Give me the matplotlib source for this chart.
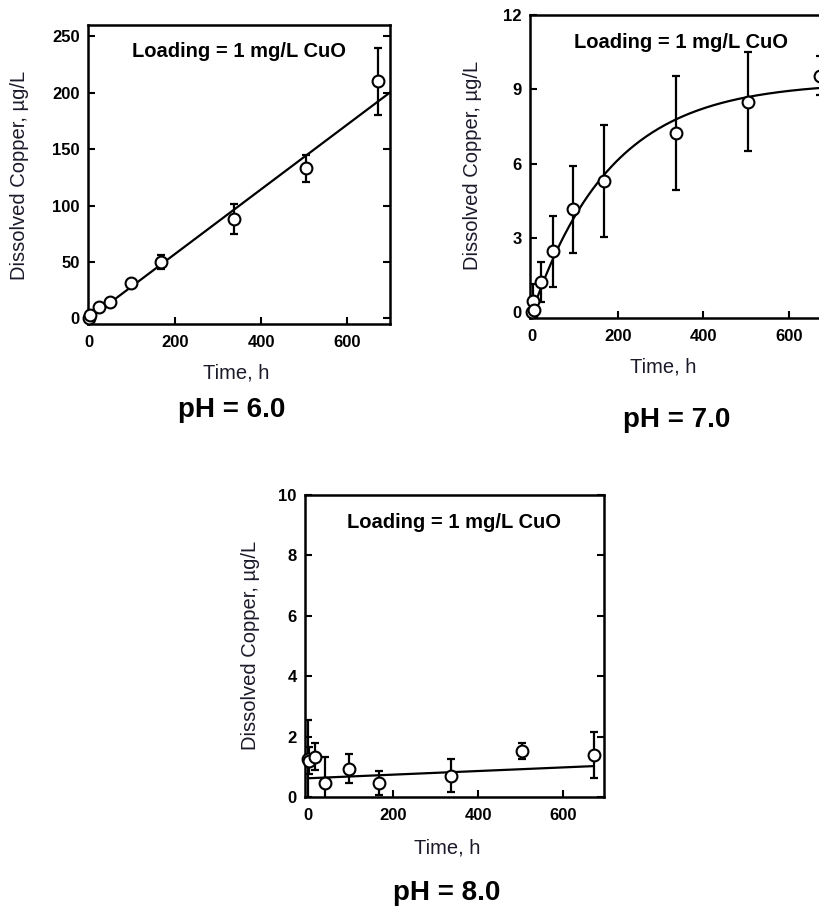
import numpy as np
import matplotlib
matplotlib.use("Agg")
import matplotlib.pyplot as plt

plt.rcParams['font.family'] = ['Liberation Sans', 'DejaVu Sans']

# ---- data ----
t_ph6 = [0, 2, 22, 48, 96, 168, 336, 504, 672]
cu_ph6 = [0.0, 3.0, 10.0, 14.5, 31.0, 50.0, 88.0, 133.0, 210.0]
err_ph6 = [1.0, 1.0, 1.5, 1.5, 2.0, 6.0, 13.0, 12.0, 30.0]
fit6_slope = 0.286
fit6_intercept = 0.0
fit6_tmax = 705

t_ph7 = [0, 2, 4, 20, 48, 96, 168, 336, 504, 672]
cu_ph7 = [0.0, 0.45, 0.1, 1.22, 2.45, 4.15, 5.3, 7.25, 8.5, 9.55]
err_ph7 = [0.1, 0.7, 0.3, 0.8, 1.45, 1.75, 2.25, 2.3, 2.0, 0.8]
fit7_plateau = 9.3
fit7_rate = 0.0054
fit7_tmax = 720

t_ph8 = [0, 2, 16, 40, 96, 168, 336, 504, 672]
cu_ph8 = [1.25, 1.2, 1.33, 0.47, 0.93, 0.47, 0.7, 1.53, 1.39]
err_ph8 = [1.3, 0.45, 0.45, 0.85, 0.48, 0.4, 0.55, 0.27, 0.75]
fit8_slope = 0.0006
fit8_intercept = 0.62

x_ticks = [0, 200, 400, 600]
y_ticks_ph6 = [0, 50, 100, 150, 200, 250]
y_ticks_ph7 = [0, 3, 6, 9, 12]
y_ticks_ph8 = [0, 2, 4, 6, 8, 10]

W, H = 820, 915
fig = plt.figure(figsize=(W / 100, H / 100), dpi=100)


def make_ax(l, r, t, b):
    return fig.add_axes([l / W, 1 - b / H, (r - l) / W, (b - t) / H])


def style(ax, yticks, xlim, ylim):
    ax.set_xlim(*xlim)
    ax.set_ylim(*ylim)
    ax.set_xticks(x_ticks)
    ax.set_yticks(yticks)
    for s in ax.spines.values():
        s.set_linewidth(1.8)
    ax.tick_params(direction='in', length=5, width=1.5, left=True, right=True,
                   bottom=True, top=False, labelsize=12, pad=6)
    ax.tick_params(axis='x', pad=8)
    for lab in ax.get_xticklabels() + ax.get_yticklabels():
        lab.set_fontweight('bold')
    ax.text(0.5, 0.91, 'Loading = 1 mg/L CuO', transform=ax.transAxes,
            ha='center', va='center', fontsize=14.5, fontweight='bold')


def plot_points(ax, t, c, e):
    ax.errorbar(t, c, yerr=e, fmt='none', ecolor='black', elinewidth=1.6,
                capsize=3, capthick=1.6, zorder=2.5)
    ax.plot(t, c, 'o', mfc='white', mec='black', mew=1.5, ms=8.5,
            zorder=3, clip_on=False)


# panel pH 6
ax1 = make_ax(88, 390, 25, 324)
style(ax1, y_ticks_ph6, (-3, 700), (-5, 260))
tl = np.linspace(0, fit6_tmax, 50)
ax1.plot(tl, fit6_slope * tl + fit6_intercept, color='black', lw=1.6, zorder=2)
plot_points(ax1, t_ph6, cu_ph6, err_ph6)

# panel pH 7
ax2 = make_ax(530, 832, 15, 318)
style(ax2, y_ticks_ph7, (-5, 700), (-0.24, 12))
tc = np.linspace(0, fit7_tmax, 200)
ax2.plot(tc, fit7_plateau * (1 - np.exp(-fit7_rate * tc)), color='black', lw=1.6, zorder=2)
plot_points(ax2, t_ph7, cu_ph7, err_ph7)

# panel pH 8
ax3 = make_ax(305, 604, 495, 797)
style(ax3, y_ticks_ph8, (-7, 696), (0, 10))
tl3 = np.linspace(0, max(t_ph8), 50)
ax3.plot(tl3, fit8_slope * tl3 + fit8_intercept, color='black', lw=1.6, zorder=2)
plot_points(ax3, t_ph8, cu_ph8, err_ph8)

ylab = 'Dissolved Copper, \u00b5g/L'
# axis labels & panel titles (figure pixel positions)
for (xl, yl, yx, yy, tx, ty, title) in [
    (236, 373, 20, 175, 232, 410, 'pH = 6.0'),
    (663, 367, 473, 165, 677, 420, 'pH = 7.0'),
    (447, 848, 250, 645, 447, 893, 'pH = 8.0'),
]:
    fig.text(xl / W, 1 - yl / H, 'Time, h', ha='center', va='center',
             fontsize=14.5, color='#1a1a2a')
    fig.text(yx / W, 1 - yy / H, ylab, ha='center', va='center', rotation=90,
             fontsize=14.5, color='#1a1a2a')
    fig.text(tx / W, 1 - ty / H, title, ha='center', va='center',
             fontsize=20, fontweight='bold')

fig.savefig('out.png', dpi=100)
